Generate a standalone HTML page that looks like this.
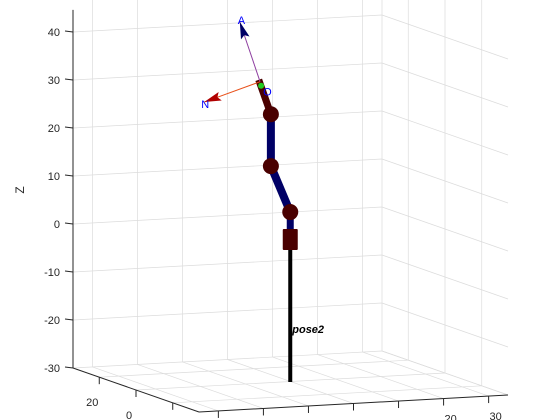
<!DOCTYPE html>
<html><head><meta charset="utf-8"><style>
html,body{margin:0;padding:0;background:#fff;}
svg{display:block;font-family:"Liberation Sans",sans-serif;}
</style></head><body>
<svg id="chart" width="560" height="420" viewBox="0 0 560 420" xmlns="http://www.w3.org/2000/svg">
<g id="grid"></g>
<g id="axes"></g>
<g id="robot"></g>
<text x="24" y="190" font-size="12" fill="#262626" text-anchor="middle" transform="rotate(-90 24 190)">Z</text>
</svg>
<script>
// axis ticks
const zTicks = [-30, -20, -10, 0, 10, 20, 30, 40];
const xTicks = [-30, -20, -10, 0, 10, 20, 30];
const yTicks = [20, 0, -20];
const xTickLabels = ["", "", "", "", "", "20", "30"];
const yTickLabels = ["20", "0", ""];
// robot data (X, Y, Z)
const jointX = [-0.3, -0.3, -4.6, -4.6];
const jointZ = [-2.1, 5.4, 15.2, 26.0];
const robotY = -0.6;
const baseZ = -30;
const wristEnd = [-7.3, 33.3];
const toolOrigin = [-7.0, 32.9];
const approachTip = [-11.5, 45.6];
const normalTip = [-19.4, 29.3];

const NS = "http://www.w3.org/2000/svg";
function uOf(X){return X/68.6+0.5;}
function vOf(Y){return 0.5-Y/68.6;}
function P(X,Y,Z){const u=uOf(X),v=vOf(Y);return [73+309*u+126*v, 368-(Z+30)*4.8-17*u+44*v];}
function el(tag,attrs,parent){const e=document.createElementNS(NS,tag);for(const k in attrs)e.setAttribute(k,attrs[k]);parent.appendChild(e);return e;}
const grid=document.getElementById('grid'),axes=document.getElementById('axes'),robot=document.getElementById('robot');
const GC="#dcdcdc";
const Xmin=-34.3,Xmax=34.3,Ymin=-34.3,Ymax=34.3,Zmin=-30,Zmax=44.6;
function line(a,b,stroke,w,parent,name){const l=el('line',{x1:a[0],y1:a[1],x2:b[0],y2:b[1],stroke:stroke,'stroke-width':w},parent);


return l;}
zTicks.forEach(z=>{
 line(P(Xmin,Ymax,z),P(Xmax,Ymax,z),GC,0.7,grid,'back-gridline');
 line(P(Xmax,Ymax,z),P(Xmax,Ymin,z),GC,0.7,grid,'side-gridline');
});
xTicks.forEach(x=>{
 line(P(x,Ymax,Zmin),P(x,Ymax,Zmax+6),GC,0.7,grid,'back-vertical-gridline');
 line(P(x,Ymax,Zmin),P(x,Ymin,Zmin),GC,0.7,grid,'floor-gridline');
});
yTicks.forEach(y=>{
 line(P(Xmax,y,Zmin),P(Xmax,y,Zmax+10),GC,0.7,grid,'side-vertical-gridline');
 line(P(Xmin,y,Zmin),P(Xmax,y,Zmin),GC,0.7,grid,'floor-gridline');
});
line(P(Xmax,Ymax,Zmin),P(Xmax,Ymax,Zmax+6),GC,0.7,grid,'corner-line');
line(P(Xmax,Ymax,Zmin),P(Xmax,Ymin,Zmin),GC,0.7,grid,'floor-right-edge');
const AC="#262626";
line(P(Xmin,Ymax,Zmin),P(Xmin,Ymax,Zmax),AC,1,axes,'z-axis-line');
line(P(Xmin,Ymax,Zmin),P(Xmin,Ymin,Zmin),AC,1,axes,'y-axis-line');
line(P(Xmin,Ymin,Zmin),P(Xmax,Ymin,Zmin),AC,1,axes,'x-axis-line');
zTicks.forEach(z=>{const p=P(Xmin,Ymax,z);
 line([p[0]-8,p[1]-1],[p[0],p[1]],AC,1,axes,'z-tick');
 const t=el('text',{x:p[0]-13,y:p[1]+4,'font-size':11,fill:AC,'text-anchor':'end'},axes);t.textContent=z;
 
 
});
xTicks.forEach((x,i)=>{const p=P(x,Ymin,Zmin);
 line(p,[p[0],p[1]+7],AC,1,axes,'x-tick');
 const t=el('text',{x:p[0]+7,y:p[1]+24,'font-size':11,fill:AC,'text-anchor':'middle'},axes);t.textContent=xTickLabels[i];
 
 
});
yTicks.forEach((y,i)=>{const p=P(Xmin,y,Zmin);
 line(p,[p[0],p[1]+7],AC,1,axes,'y-tick');
 const t=el('text',{x:p[0]-7,y:p[1]+29,'font-size':11,fill:AC,'text-anchor':'middle'},axes);t.textContent=yTickLabels[i];
 
 
});
const MR="#4a0000",NV="#000066";
line(P(jointX[0],robotY,baseZ),P(jointX[0],robotY,jointZ[0]),"#000",4,robot,'base-pole');
line(P(jointX[0],robotY,jointZ[0]),P(jointX[1],robotY,jointZ[1]),NV,7,robot,'link-0');
for(let i=1;i<jointX.length-1;i++){line(P(jointX[i],robotY,jointZ[i]),P(jointX[i+1],robotY,jointZ[i+1]),NV,8,robot,'link-'+i);}
const last=jointX.length-1;
line(P(jointX[last],robotY,jointZ[last]),P(wristEnd[0],robotY,wristEnd[1]),MR,7,robot,'wrist-link');
const bp=P(jointX[0],robotY,jointZ[0]);
const base=el('rect',{x:bp[0]-7.5,y:bp[1]-19,width:15,height:21,fill:MR,rx:1},robot);


for(let i=1;i<jointX.length;i++){const p=P(jointX[i],robotY,jointZ[i]);
 const c=el('circle',{cx:p[0],cy:p[1],r:8,fill:MR},robot);
 
 
}
const o=P(toolOrigin[0],robotY,toolOrigin[1]);
function arrow(tip,stroke,head,name,label,lx,ly){
 const t=P(tip[0],robotY,tip[1]);
 line(o,t,stroke,1,robot,name+'-line');
 const dx=t[0]-o[0],dy=t[1]-o[1],L=Math.hypot(dx,dy),ux=dx/L,uy=dy/L,hl=17,hw=4.5;
 const bx=t[0]-ux*hl,by=t[1]-uy*hl;
 const h=el('polygon',{points:`${t[0]},${t[1]} ${bx-uy*hw},${by+ux*hw} ${bx+ux*3},${by+uy*3} ${bx+uy*hw},${by-ux*hw}`,fill:head},robot);
 
 
 const tx=el('text',{x:t[0]+lx,y:t[1]+ly,'font-size':11,fill:'#0000ff'},robot);tx.textContent=label;
 
 
}
arrow(approachTip,"#8e3fa0",NV,'approach-arrow','A',-2,2);
arrow(normalTip,"#e8501a","#b00000",'normal-arrow','N',-3,6);
const g=el('circle',{cx:o[0]+1,cy:o[1]+4,r:3,fill:'#22cc22'},robot);


const ot=el('text',{x:o[0]+3,y:o[1]+14,'font-size':11,fill:'#0000ff'},robot);ot.textContent='O';


const bpos=P(jointX[0],robotY,baseZ);
const pl=el('text',{x:bpos[0]+2,y:bpos[1]-49,'font-size':11,'font-weight':'bold','font-style':'italic',fill:'#000'},robot);pl.textContent='pose2';


</script>
</body></html>
